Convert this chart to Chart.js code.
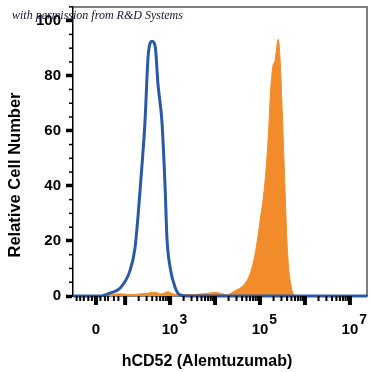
<!DOCTYPE html>
<html>
<head>
<meta charset="utf-8">
<script src="https://cdn.jsdelivr.net/npm/chart.js@4.4.1/dist/chart.umd.min.js"></script>
<style>
  body { margin: 0; background: #fff; }
</style>
</head>
<body>
<canvas id="histo" width="371" height="372"></canvas>
<script>
// x values are decade positions on the biexponential axis (3 = 10^3)
const isotypeX = [0.84, 1.2, 1.44, 1.67, 1.89, 2.11, 2.22, 2.29, 2.38, 2.44, 2.51, 2.56, 2.6, 2.67, 2.73, 2.82, 2.89, 2.93, 3.0, 3.11, 3.22, 3.4, 4.5, 6, 7.38];
const isotypeY = [0, 0, 0, 1.1, 2.9, 9.3, 17.5, 29.6, 48.6, 62.9, 86.8, 92, 92.5, 90.4, 77, 62.9, 39, 21, 10.4, 3.2, 0.4, 0, 0, 0, 0];

const cd52X = [1.5, 1.7, 1.9, 2.1, 2.3, 2.5, 2.65, 2.8, 2.95, 3.1, 3.3, 3.6, 3.85, 4.0, 4.15, 4.26, 4.45, 4.63, 4.78, 4.89, 5.0, 5.11, 5.185, 5.237, 5.282, 5.333, 5.407, 5.444, 5.504, 5.556, 5.607, 5.681, 5.815, 6.0];
const cd52Y = [0, 0.5, 0.8, 0.5, 0.7, 1.0, 1.4, 0.8, 1.5, 0.6, 0.5, 0.6, 1.0, 1.3, 0.9, 0.4, 2.0, 3.9, 8.1, 15.3, 27.1, 41.4, 58.1, 74.8, 83.1, 85.5, 93.2, 86.7, 62.9, 39, 17.6, 4.5, 0, 0];

// tick labels on the x axis: position, base, exponent
const xLabelPos = [1.35, 3, 5, 7];
const xLabelBase = ['0', '10', '10', '10'];
const xLabelExp = ['', '3', '5', '7'];

const yLabelValues = [0, 20, 40, 60, 80, 100];

const xTitle = 'hCD52 (Alemtuzumab)';
const yTitle = 'Relative Cell Number';
const credit = 'with permission from R&D Systems';

const BLUE = '#2a5aa6';
const ORANGE = '#f28c2a';
const FONT = '"Liberation Sans", Arial, sans-serif';

function toPoints(xs, ys) {
    return xs.map((x, i) => ({ x: x, y: ys[i] }));
}

// extra drawing: axis ticks, superscript labels, titles, frame
const decorations = {
    id: 'decorations',
    afterDraw(chart) {
        const ctx = chart.ctx;
        const area = chart.chartArea;
        const xs = chart.scales.x;
        const ys = chart.scales.y;
        ctx.save();

        // frame top and right
        ctx.strokeStyle = '#555';
        ctx.lineWidth = 1.5;
        ctx.beginPath();
        ctx.moveTo(area.left, area.top);
        ctx.lineTo(area.right, area.top);
        ctx.lineTo(area.right, area.bottom);
        ctx.stroke();

        // y minor ticks
        ctx.strokeStyle = '#000';
        ctx.lineWidth = 1.5;
        for (let v = 5; v <= 105; v += 5) {
            if (v % 20 === 0) continue;
            const py = ys.getPixelForValue(v);
            ctx.beginPath();
            ctx.moveTo(area.left - 4, py);
            ctx.lineTo(area.left, py);
            ctx.stroke();
        }

        // x ticks (log-style)
        const majors = [1.35, 2, 3, 4, 5, 6, 7];
        const minors = [0.92, 1.0, 1.08, 1.18, 1.26, 1.45, 1.55, 1.62, 1.75, 1.85];
        for (let d = 2; d <= 6; d++) {
            for (let k = 2; k <= 9; k++) minors.push(d + Math.log10(k));
        }
        ctx.lineWidth = 2;
        minors.forEach(v => {
            const px = xs.getPixelForValue(v);
            ctx.beginPath();
            ctx.moveTo(px, area.bottom);
            ctx.lineTo(px, area.bottom + 5);
            ctx.stroke();
        });
        ctx.lineWidth = 4;
        majors.forEach(v => {
            const px = xs.getPixelForValue(v);
            ctx.beginPath();
            ctx.moveTo(px, area.bottom);
            ctx.lineTo(px, area.bottom + 9);
            ctx.stroke();
        });

        // x labels with exponent
        ctx.fillStyle = '#000';
        ctx.textBaseline = 'middle';
        xLabelPos.forEach((v, i) => {
            const px = xs.getPixelForValue(v);
            ctx.font = 'bold 15px ' + FONT;
            ctx.textAlign = 'center';
            ctx.fillText(xLabelBase[i], px, 330);
            if (xLabelExp[i]) {
                const w = ctx.measureText(xLabelBase[i]).width;
                ctx.textAlign = 'left';
                ctx.font = 'bold 14px ' + FONT;
                ctx.fillText(xLabelExp[i], px + w / 2 + 1, 320);
            }
        });

        // axis titles
        ctx.font = 'bold 16px ' + FONT;
        ctx.textAlign = 'center';
        ctx.fillText(xTitle, 207, 362);
        ctx.save();
        ctx.translate(15, 175);
        ctx.rotate(-Math.PI / 2);
        ctx.font = 'bold 16.5px ' + FONT;
        ctx.fillText(yTitle, 0, 0);
        ctx.restore();

        // credit line
        ctx.font = 'italic 12px "Liberation Serif", serif';
        ctx.fillStyle = '#14142e';
        ctx.textAlign = 'left';
        ctx.textBaseline = 'alphabetic';
        ctx.fillText(credit, 12, 19);

        ctx.restore();
    }
};

new Chart(document.getElementById('histo').getContext('2d'), {
    type: 'line',
    data: {
        datasets: [{
            label: 'Isotype',
            data: toPoints(isotypeX, isotypeY),
            borderColor: BLUE,
            borderWidth: 3,
            fill: false,
            pointRadius: 0,
            cubicInterpolationMode: 'monotone',
            clip: 4
        }, {
            label: 'hCD52',
            data: toPoints(cd52X, cd52Y),
            borderColor: ORANGE,
            backgroundColor: ORANGE,
            borderWidth: 1,
            fill: 'origin',
            pointRadius: 0,
            cubicInterpolationMode: 'monotone'
        }]
    },
    options: {
        responsive: false,
        animation: false,
        layout: { padding: { top: 2, right: 4, left: 0, bottom: 0 } },
        plugins: {
            legend: { display: false },
            tooltip: { enabled: false }
        },
        scales: {
            x: {
                type: 'linear',
                min: 0.84,
                max: 7.38,
                ticks: { display: false },
                grid: { display: false },
                border: { display: true, color: '#000', width: 1.5 },
                afterFit(scale) { scale.height = 76; }
            },
            y: {
                min: 0,
                max: 105,
                afterBuildTicks(scale) {
                    scale.ticks = yLabelValues.map(v => ({ value: v }));
                },
                ticks: {
                    color: '#000',
                    padding: 5,
                    font: { family: FONT, size: 15, weight: 'bold', lineHeight: 0.25 }
                },
                grid: {
                    drawOnChartArea: false,
                    tickLength: 7,
                    tickWidth: 3.5,
                    tickColor: '#000'
                },
                border: { display: true, color: '#000', width: 1.5 },
                afterFit(scale) { scale.width = 73; }
            }
        }
    },
    plugins: [decorations]
});
</script>
</body>
</html>
